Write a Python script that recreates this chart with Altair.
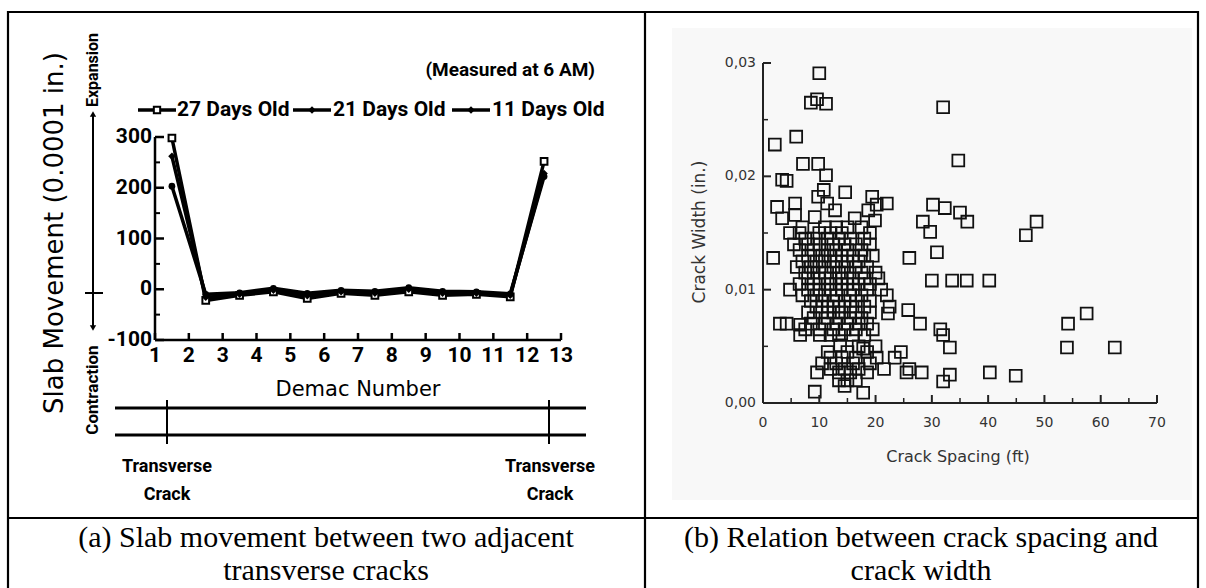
import altair as alt
import pandas as pd

# ---------------- Panel (a): slab movement ----------------
demac = [1.5, 2.5, 3.5, 4.5, 5.5, 6.5, 7.5, 8.5, 9.5, 10.5, 11.5, 12.5]
days27 = [298, -22, -12, -5, -18, -8, -12, -5, -12, -10, -15, 252]
days21 = [262, -16, -10, -2, -13, -5, -8, 0, -8, -8, -12, 228]
days11 = [203, -10, -7, 2, -8, -2, -4, 3, -4, -5, -9, 222]
series_names = ["27 Days Old", "21 Days Old", "11 Days Old"]
a_xticks = list(range(1, 14))
a_yticks_major = [-100, 0, 100, 200, 300]
a_yticks_minor = [-50, 50, 150, 250]
a_ylabels = ["-100", "0", "100", "200", "300"]

# ---------------- Panel (b): crack spacing vs width ----------------
spacing = [
    10.0, 8.5, 9.6, 11.2, 2.1, 5.9, 32.0, 34.7, 7.1, 9.8, 11.2, 3.4, 4.2, 10.8, 14.6,
    2.5, 5.7, 9.8, 11.4, 12.8, 19.4, 22.0, 20.2, 3.4, 5.7, 9.2, 16.3, 19.9, 18.7, 28.4,
    30.2, 32.3, 35.0, 36.3, 29.7, 30.9, 46.7, 48.6, 26.0, 30.0, 33.6, 36.2, 40.2, 54.2,
    57.5, 54.0, 62.5, 32.0, 33.2, 40.3, 44.9, 33.2, 32.0, 1.8, 4.8, 3.0, 4.2, 6.6, 6.6,
    10.1, 9.6, 9.2, 17.8, 22.2, 25.8, 27.9, 23.4, 25.5, 28.2, 20.2, 17.8, 13.7,
    7.0, 11.0, 13.0, 15.0, 17.5,
    4.8, 6.5, 10.0, 12.0, 14.0, 19.0,
    7.5, 9.0, 11.5, 13.5, 15.5, 18.0,
    5.5, 8.0, 10.0, 12.5, 14.5, 16.5, 19.0,
    6.5, 9.0, 11.5, 13.0, 15.0, 17.5,
    8.0, 10.5, 12.0, 14.0, 16.0, 18.0, 19.5,
    7.0, 9.5, 11.0, 13.0, 15.0, 17.0,
    6.0, 8.5, 10.0, 12.5, 14.0, 16.5, 18.5,
    7.5, 9.0, 11.0, 13.5, 15.0, 17.5, 20.0,
    8.0, 10.0, 12.0, 14.0, 16.0, 18.0, 20.5,
    6.5, 9.0, 11.5, 13.0, 15.0, 17.0, 19.0,
    8.0, 10.0, 12.0, 14.0, 16.0, 18.5, 21.0,
    7.0, 9.5, 11.0, 13.0, 15.5, 17.5, 22.0,
    8.5, 10.5, 12.5, 14.5, 16.5, 19.0,
    9.5, 11.5, 13.5, 15.5, 18.0, 22.5,
    8.0, 10.5, 12.5, 14.0, 16.5, 19.0,
    9.0, 11.5, 13.5, 15.5, 17.5,
    8.5, 11.0, 13.0, 15.0, 17.0, 18.5,
    7.5, 10.0, 12.5, 14.5, 16.5, 19.5, 31.5,
    12.0, 13.5, 16.0, 18.0,
    17.0, 20.0,
    11.5, 15.0, 18.5, 24.5,
    12.0, 14.0, 16.5,
    10.5, 13.0, 16.0, 19.0,
    12.0, 14.5, 17.0, 21.5, 26.0,
    13.5, 15.5, 18.5,
    13.5, 15.0, 16.5,
    14.5,
]
width_in = [
    0.0291, 0.0265, 0.0268, 0.0264, 0.0228, 0.0235, 0.0261, 0.0214, 0.0211, 0.0211, 0.0201,
    0.0197, 0.0196, 0.0188, 0.0186, 0.0173, 0.0176, 0.0182, 0.0176, 0.0170, 0.0182, 0.0176,
    0.0175, 0.0163, 0.0166, 0.0164, 0.0163, 0.0161, 0.0170, 0.0160, 0.0175, 0.0172, 0.0168,
    0.0160, 0.0151, 0.0133, 0.0148, 0.0160, 0.0128, 0.0108, 0.0108, 0.0108, 0.0108, 0.0070,
    0.0079, 0.0049, 0.0049, 0.0060, 0.0049, 0.0027, 0.0024, 0.0025, 0.0019, 0.0128, 0.0100,
    0.0070, 0.0070, 0.0069, 0.0060, 0.0060, 0.0027, 0.0010, 0.0009, 0.0079, 0.0082, 0.0070,
    0.0040, 0.0027, 0.0027, 0.0040, 0.0048, 0.0051,
    0.0155, 0.0155, 0.0155, 0.0155, 0.0155,
    0.0150, 0.0150, 0.0150, 0.0150, 0.0150, 0.0150,
    0.0145, 0.0145, 0.0145, 0.0145, 0.0145, 0.0145,
    0.0140, 0.0140, 0.0140, 0.0140, 0.0140, 0.0140, 0.0140,
    0.0135, 0.0135, 0.0135, 0.0135, 0.0135, 0.0135,
    0.0130, 0.0130, 0.0130, 0.0130, 0.0130, 0.0130, 0.0130,
    0.0125, 0.0125, 0.0125, 0.0125, 0.0125, 0.0125,
    0.0120, 0.0120, 0.0120, 0.0120, 0.0120, 0.0120, 0.0120,
    0.0115, 0.0115, 0.0115, 0.0115, 0.0115, 0.0115, 0.0115,
    0.0110, 0.0110, 0.0110, 0.0110, 0.0110, 0.0110, 0.0110,
    0.0105, 0.0105, 0.0105, 0.0105, 0.0105, 0.0105, 0.0105,
    0.0100, 0.0100, 0.0100, 0.0100, 0.0100, 0.0100, 0.0100,
    0.0095, 0.0095, 0.0095, 0.0095, 0.0095, 0.0095, 0.0095,
    0.0090, 0.0090, 0.0090, 0.0090, 0.0090, 0.0090,
    0.0085, 0.0085, 0.0085, 0.0085, 0.0085, 0.0085,
    0.0080, 0.0080, 0.0080, 0.0080, 0.0080, 0.0080,
    0.0075, 0.0075, 0.0075, 0.0075, 0.0075,
    0.0070, 0.0070, 0.0070, 0.0070, 0.0070, 0.0070,
    0.0065, 0.0065, 0.0065, 0.0065, 0.0065, 0.0065, 0.0065,
    0.0060, 0.0060, 0.0060, 0.0060,
    0.0050, 0.0050,
    0.0045, 0.0045, 0.0045, 0.0045,
    0.0040, 0.0040, 0.0040,
    0.0035, 0.0035, 0.0035, 0.0035,
    0.0030, 0.0030, 0.0030, 0.0030, 0.0030,
    0.0027, 0.0027, 0.0027,
    0.0020, 0.0020, 0.0020,
    0.0015,
]
b_xticks_major = [0, 10, 20, 30, 40, 50, 60, 70]
b_xticks_minor = [5, 15, 25, 35, 45, 55, 65]
b_yticks_major = [0.0, 0.01, 0.02, 0.03]
b_yticks_minor = [0.005, 0.015, 0.025]
b_ylabels = ["0,00", "0,01", "0,02", "0,03"]

FN = "Roboto, Liberation Sans, sans-serif"
FD = "DejaVu Sans, sans-serif"
FS = "Liberation Serif, Times New Roman, serif"
one = pd.DataFrame({"k": [0]})


def txt(s, x, y, size, font, weight="normal", align="center", angle=0, color="black"):
    return alt.Chart(one).mark_text(
        text=s, font=font, fontSize=size, fontWeight=weight, align=align,
        baseline="middle", angle=angle, color=color,
    ).encode(x=alt.value(x), y=alt.value(y))


def hline(x1, x2, y, w=2.0, color="black"):
    return alt.Chart(one).mark_rule(color=color, strokeWidth=w).encode(
        x=alt.value(x1), x2=alt.value(x2), y=alt.value(y))


def vline(x, y1, y2, w=2.0, color="black"):
    return alt.Chart(one).mark_rule(color=color, strokeWidth=w).encode(
        x=alt.value(x), y=alt.value(y1), y2=alt.value(y2))


# ---------- scales ----------
sxa = alt.Scale(domain=[1, 13], range=[155, 561], zero=False, nice=False)
sya = alt.Scale(domain=[-100, 300], range=[340, 137], zero=False, nice=False)
sxb = alt.Scale(domain=[0, 70], range=[763, 1157], zero=False, nice=False)
syb = alt.Scale(domain=[0, 0.03], range=[403, 63], zero=False, nice=False)


def XF(f, s):
    return alt.X(f, type="quantitative", scale=s, axis=None)


def YF(f, s):
    return alt.Y(f, type="quantitative", scale=s, axis=None)


def XD(v, s):
    return alt.XDatum(v, type="quantitative", scale=s, axis=None)


def YD(v, s):
    return alt.YDatum(v, type="quantitative", scale=s, axis=None)


# ---------- panel (a) ----------
dfa = pd.DataFrame({
    "demac": demac * 3,
    "move": days27 + days21 + days11,
    "series": [n for n in series_names for _ in demac],
})
lines_a = alt.Chart(dfa).mark_line(color="black", strokeWidth=3.5).encode(
    x=XF("demac", sxa), y=YF("move", sya), detail="series:N")
pts27 = alt.Chart(pd.DataFrame({"demac": demac, "move": days27})).mark_point(
    shape="square", filled=True, fill="white", stroke="black", strokeWidth=2, size=45, opacity=1
).encode(x=XF("demac", sxa), y=YF("move", sya))
pts21 = alt.Chart(pd.DataFrame({"demac": demac, "move": days21})).mark_point(
    shape="diamond", filled=True, color="black", size=55, opacity=1
).encode(x=XF("demac", sxa), y=YF("move", sya))
pts11 = alt.Chart(pd.DataFrame({"demac": demac, "move": days11})).mark_point(
    shape="circle", filled=True, color="black", size=45, opacity=1
).encode(x=XF("demac", sxa), y=YF("move", sya))

a_yaxis = alt.Chart(one).mark_rule(color="black", strokeWidth=2.5).encode(
    x=XD(1, sxa), y=YD(-100, sya), y2=alt.Y2Datum(300))
a_xaxis = alt.Chart(one).mark_rule(color="black", strokeWidth=2.5).encode(
    y=YD(-100, sya), x=XD(1, sxa), x2=alt.X2Datum(13))
a_yt_major = alt.Chart(pd.DataFrame({"v": a_yticks_major})).mark_tick(
    orient="horizontal", size=9, thickness=2.5, xOffset=4.5, color="black", opacity=1
).encode(x=XD(1, sxa), y=YF("v", sya))
a_yt_minor = alt.Chart(pd.DataFrame({"v": a_yticks_minor})).mark_tick(
    orient="horizontal", size=5, thickness=2, xOffset=2.5, color="black", opacity=1
).encode(x=XD(1, sxa), y=YF("v", sya))
a_ylab = alt.Chart(pd.DataFrame({"v": a_yticks_major, "lab": a_ylabels})).mark_text(
    align="right", baseline="middle", dx=-3, font=FN, fontSize=21, fontWeight="bold"
).encode(x=XD(1, sxa), y=YF("v", sya), text="lab:N")
a_xt = alt.Chart(pd.DataFrame({"v": a_xticks})).mark_tick(
    orient="vertical", size=7, thickness=2.5, yOffset=-3.5, color="black", opacity=1
).encode(x=XF("v", sxa), y=YD(-100, sya))
a_xlab = alt.Chart(pd.DataFrame({"v": a_xticks})).mark_text(
    align="center", baseline="middle", dy=16, font=FN, fontSize=21, fontWeight="bold"
).encode(x=XF("v", sxa), y=YD(-100, sya), text=alt.Text("v:Q", format="d"))

panel_a = alt.layer(lines_a, pts27, pts21, pts11, a_yaxis, a_xaxis,
                    a_yt_major, a_yt_minor, a_ylab, a_xt, a_xlab)

# ---------- panel (b) ----------
dfb = pd.DataFrame({"spacing": spacing, "width": width_in})
sq_b = alt.Chart(dfb).mark_point(
    shape="square", filled=False, color="#111111", strokeWidth=1.8, size=140, opacity=1
).encode(x=XF("spacing", sxb), y=YF("width", syb))
b_yaxis = alt.Chart(one).mark_rule(color="#222222", strokeWidth=2).encode(
    x=XD(0, sxb), y=YD(0, syb), y2=alt.Y2Datum(0.03))
b_xaxis = alt.Chart(one).mark_rule(color="#222222", strokeWidth=2).encode(
    y=YD(0, syb), x=XD(0, sxb), x2=alt.X2Datum(70))
b_yt_major = alt.Chart(pd.DataFrame({"v": b_yticks_major})).mark_tick(
    orient="horizontal", size=8, thickness=2, xOffset=4, color="#222222", opacity=1
).encode(x=XD(0, sxb), y=YF("v", syb))
b_yt_minor = alt.Chart(pd.DataFrame({"v": b_yticks_minor})).mark_tick(
    orient="horizontal", size=5, thickness=1.5, xOffset=2.5, color="#222222", opacity=1
).encode(x=XD(0, sxb), y=YF("v", syb))
b_ylab = alt.Chart(pd.DataFrame({"v": b_yticks_major, "lab": b_ylabels})).mark_text(
    align="right", baseline="middle", dx=-7, font=FD, fontSize=14, color="#333333"
).encode(x=XD(0, sxb), y=YF("v", syb), text="lab:N")
b_xt_major = alt.Chart(pd.DataFrame({"v": b_xticks_major})).mark_tick(
    orient="vertical", size=8, thickness=2, yOffset=-4, color="#222222", opacity=1
).encode(x=XF("v", sxb), y=YD(0, syb))
b_xt_minor = alt.Chart(pd.DataFrame({"v": b_xticks_minor})).mark_tick(
    orient="vertical", size=5, thickness=1.5, yOffset=-2.5, color="#222222", opacity=1
).encode(x=XF("v", sxb), y=YD(0, syb))
b_xlab = alt.Chart(pd.DataFrame({"v": b_xticks_major})).mark_text(
    align="center", baseline="middle", dy=20, font=FD, fontSize=14, color="#333333"
).encode(x=XF("v", sxb), y=YD(0, syb), text=alt.Text("v:Q", format="d"))

panel_b = alt.layer(sq_b, b_yaxis, b_xaxis, b_yt_major, b_yt_minor, b_ylab,
                    b_xt_major, b_xt_minor, b_xlab)

# ---------- decorations (table, captions, labels) ----------
scan_bg = alt.Chart(one).mark_rect(color="#f8f8f8").encode(
    x=alt.value(672), x2=alt.value(1192), y=alt.value(28), y2=alt.value(500))

decor = [
    # table grid
    hline(7, 1199, 12, 2.2),
    hline(7, 1199, 518, 2.2),
    vline(8, 11, 588, 2.2),
    vline(1198, 11, 588, 2.2),
    vline(645, 11, 588, 2.2),
    # captions
    txt("(a) Slab movement between two adjacent", 326, 538, 30, FS),
    txt("transverse cracks", 326, 571, 30, FS),
    txt("(b) Relation between crack spacing and", 921, 538, 30, FS),
    txt("crack width", 921, 571, 30, FS),
    # panel (a) texts
    txt("(Measured at 6 AM)", 595, 70, 19, FN, "bold", align="right"),
    txt("Slab Movement (0.0001 in.)", 55, 233, 26, FD, angle=270),
    txt("Expansion", 93, 70, 16, FN, "bold", angle=270),
    txt("Contraction", 93, 390, 17, FN, "bold", angle=270),
    txt("Demac Number", 358, 390, 21, FD),
    txt("Transverse", 167, 467, 18, FN, "bold"),
    txt("Crack", 167, 495, 18, FN, "bold"),
    txt("Transverse", 550, 467, 18, FN, "bold"),
    txt("Crack", 550, 495, 18, FN, "bold"),
    # expansion / contraction arrow
    vline(93, 114, 326, 2),
    hline(85, 103, 293, 2),
    alt.Chart(one).mark_point(shape="triangle-up", filled=True, color="black", size=40, opacity=1)
    .encode(x=alt.value(93), y=alt.value(114)),
    alt.Chart(one).mark_point(shape="triangle-down", filled=True, color="black", size=40, opacity=1)
    .encode(x=alt.value(93), y=alt.value(328)),
    # slab sketch
    hline(115, 586, 408, 3),
    hline(115, 586, 435, 3),
    vline(167, 400, 444, 2),
    vline(549, 400, 444, 2),
    # legend
    hline(138, 176, 110, 3.5),
    alt.Chart(one).mark_point(shape="square", filled=True, fill="white", stroke="black",
                              strokeWidth=2, size=40, opacity=1)
    .encode(x=alt.value(157), y=alt.value(110)),
    txt(series_names[0], 177, 110, 21, FN, "bold", align="left"),
    hline(293, 331, 110, 3.5),
    alt.Chart(one).mark_point(shape="diamond", filled=True, color="black", size=55, opacity=1)
    .encode(x=alt.value(312), y=alt.value(110)),
    txt(series_names[1], 333, 110, 21, FN, "bold", align="left"),
    hline(452, 490, 110, 3.5),
    alt.Chart(one).mark_point(shape="diamond", filled=True, color="black", size=55, opacity=1)
    .encode(x=alt.value(471), y=alt.value(110)),
    txt(series_names[2], 492, 110, 21, FN, "bold", align="left"),
    # panel (b) titles
    txt("Crack Width (in.)", 700, 232, 17, FD, angle=270, color="#333333"),
    txt("Crack Spacing (ft)", 958, 457, 16, FD, color="#333333"),
]

chart = alt.layer(scan_bg, panel_a, panel_b, *decor).resolve_scale(
    x="independent", y="independent"
).properties(
    width=1206, height=588, padding=0,
    autosize=alt.AutoSizeParams(type="none"),
    background="white",
).configure_view(stroke=None)

chart.save("out.html", embed_options={"renderer": "svg", "actions": False})
